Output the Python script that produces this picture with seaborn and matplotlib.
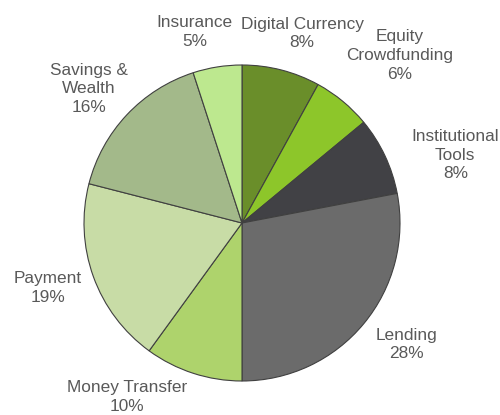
import matplotlib
matplotlib.use("Agg")
import matplotlib.pyplot as plt
import seaborn as sns

# data
categories = ["Digital Currency", "Equity\nCrowdfunding", "Institutional\nTools",
              "Lending", "Money Transfer", "Payment", "Savings &\nWealth", "Insurance"]
shares = [8, 6, 8, 28, 10, 19, 16, 5]
colors = ["#6a8e2a", "#8dc62a", "#414145", "#6b6b6b",
          "#aed36c", "#c8dca6", "#a3b98a", "#bde88f"]

# label centres (data units, pie radius = 1)
label_pos = [(0.38, 1.20), (1.0, 1.06), (1.35, 0.43), (1.04, -0.77),
             (-0.73, -1.10), (-1.23, -0.41), (-0.97, 0.85), (-0.30, 1.21)]

sns.set_theme(style="white")
plt.rcParams["font.family"] = ["Liberation Sans", "DejaVu Sans"]

fig = plt.figure(figsize=(5.0, 4.15), dpi=100)
ax = fig.add_axes([84 / 500, 34 / 415, 316 / 500, 316 / 415])

wedges, _ = ax.pie(shares, colors=colors, startangle=90, counterclock=False,
                   radius=1.0,
                   wedgeprops=dict(edgecolor="#404040", linewidth=0.8))

for name, val, (x, y) in zip(categories, shares, label_pos):
    ax.text(x, y, f"{name}\n{val}%", ha="center", va="center",
            fontsize=12.4, color="#595959", linespacing=1.3)

ax.set_xlim(-1, 1)
ax.set_ylim(-1, 1)
ax.set_aspect("equal")
ax.axis("off")

fig.savefig("out.png", dpi=100)
